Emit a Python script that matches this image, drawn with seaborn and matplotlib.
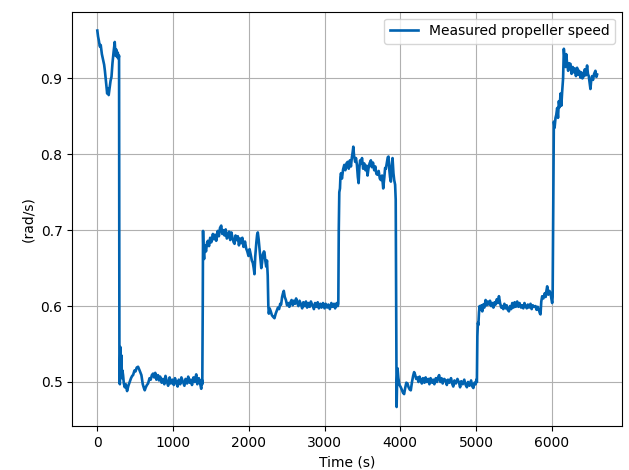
"""
Measured propeller speed over time
"""

import matplotlib

# no display, save to file only
matplotlib.use("Agg")

import matplotlib.pyplot as plt

import seaborn as sns

import pandas as pd

# values, one segment per speed step
time_start = [0, 10, 20, 33, 45, 60, 77, 90, 100, 115, 130, 140, 150, 160,
              175, 187, 200, 215, 230, 240, 250, 260, 270, 280, 287]
speed_start = [0.963, 0.955, 0.950, 0.942, 0.944, 0.932, 0.924, 0.918, 0.910,
               0.895, 0.880, 0.887, 0.878, 0.886, 0.897, 0.902, 0.920, 0.935,
               0.948, 0.930, 0.938, 0.928, 0.934, 0.926, 0.930]

time_low1 = [292, 298, 305, 312, 318, 325, 332, 340, 350, 362, 375, 393, 410,
             428, 445, 460, 472, 490, 505, 520, 538, 555, 570, 582, 600, 615,
             626, 640, 655, 670, 690, 705, 720, 736, 750, 765, 780, 801, 815,
             830, 850, 867, 885, 900, 920, 935, 955, 970, 990, 1010, 1025,
             1043, 1060, 1075, 1095, 1110, 1131, 1150, 1165, 1185, 1200, 1219,
             1235, 1250, 1270, 1285, 1306, 1320, 1340, 1355, 1372, 1380, 1386]
speed_low1 = [0.500, 0.497, 0.546, 0.520, 0.535, 0.505, 0.515, 0.509, 0.498,
              0.493, 0.497, 0.488, 0.495, 0.500, 0.505, 0.508, 0.509, 0.515,
              0.514, 0.519, 0.520, 0.516, 0.512, 0.509, 0.497, 0.492, 0.489,
              0.493, 0.496, 0.498, 0.505, 0.503, 0.509, 0.511, 0.506, 0.512,
              0.503, 0.509, 0.502, 0.507, 0.499, 0.504, 0.497, 0.508, 0.500,
              0.495, 0.506, 0.498, 0.503, 0.496, 0.505, 0.499, 0.494, 0.503,
              0.497, 0.506, 0.500, 0.495, 0.504, 0.498, 0.507, 0.499, 0.503,
              0.496, 0.506, 0.500, 0.510, 0.497, 0.505, 0.499, 0.491, 0.503,
              0.497]

time_mid1 = [1392, 1396, 1402, 1410, 1420, 1435, 1450, 1460, 1475, 1490, 1505,
             1526, 1540, 1555, 1570, 1590, 1605, 1620, 1636, 1650, 1665, 1680,
             1695, 1710, 1724, 1740, 1755, 1770, 1785, 1800, 1812, 1825, 1840,
             1855, 1870, 1885, 1900, 1915, 1930, 1950, 1965, 1980, 1996, 2010,
             2025, 2040, 2053, 2065, 2075, 2085, 2100, 2110, 2119, 2130, 2142,
             2155, 2165, 2175, 2185, 2200, 2207, 2218, 2230, 2240, 2250]
speed_mid1 = [0.600, 0.699, 0.670, 0.662, 0.680, 0.672, 0.684, 0.686, 0.679,
              0.690, 0.684, 0.695, 0.688, 0.694, 0.686, 0.699, 0.692, 0.703,
              0.706, 0.695, 0.700, 0.693, 0.701, 0.689, 0.691, 0.698, 0.687,
              0.697, 0.690, 0.684, 0.682, 0.693, 0.687, 0.692, 0.680, 0.689,
              0.683, 0.690, 0.678, 0.685, 0.676, 0.672, 0.666, 0.675, 0.668,
              0.660, 0.657, 0.650, 0.642, 0.665, 0.684, 0.694, 0.697, 0.688,
              0.675, 0.662, 0.650, 0.657, 0.668, 0.672, 0.671, 0.660, 0.652,
              0.660, 0.640]

time_six1 = [2258, 2265, 2275, 2290, 2305, 2320, 2339, 2355, 2370, 2385, 2400,
             2415, 2427, 2440, 2452, 2462, 2475, 2490, 2505, 2520, 2535, 2550,
             2565, 2580, 2595, 2610, 2625, 2640, 2655, 2670, 2690, 2705, 2720,
             2740, 2755, 2770, 2790, 2805, 2820, 2840, 2860, 2875, 2890, 2910,
             2925, 2945, 2960, 2980, 3000, 3015, 3035, 3050, 3070, 3090, 3105,
             3125, 3140, 3160, 3175, 3182]
speed_six1 = [0.600, 0.590, 0.597, 0.593, 0.588, 0.586, 0.584, 0.590, 0.594,
              0.598, 0.596, 0.603, 0.602, 0.612, 0.617, 0.620, 0.612, 0.608,
              0.601, 0.604, 0.599, 0.605, 0.608, 0.601, 0.607, 0.603, 0.610,
              0.604, 0.600, 0.607, 0.602, 0.597, 0.605, 0.600, 0.606, 0.598,
              0.604, 0.599, 0.606, 0.601, 0.596, 0.604, 0.599, 0.605, 0.597,
              0.603, 0.598, 0.604, 0.597, 0.603, 0.598, 0.602, 0.596, 0.604,
              0.599, 0.603, 0.597, 0.604, 0.600, 0.603]

time_high = [3188, 3195, 3204, 3210, 3217, 3230, 3245, 3261, 3275, 3290, 3305,
             3320, 3335, 3349, 3360, 3372, 3380, 3390, 3405, 3415, 3428, 3440,
             3450, 3460, 3470, 3480, 3495, 3510, 3524, 3540, 3555, 3568, 3580,
             3595, 3612, 3625, 3640, 3656, 3670, 3685, 3700, 3715, 3730, 3744,
             3760, 3775, 3790, 3800, 3810, 3825, 3835, 3845, 3855, 3865, 3876,
             3887, 3898, 3910, 3920, 3932, 3940, 3946]
speed_high = [0.700, 0.750, 0.755, 0.770, 0.775, 0.768, 0.780, 0.786, 0.779,
              0.788, 0.790, 0.781, 0.792, 0.784, 0.795, 0.803, 0.810, 0.798,
              0.790, 0.795, 0.786, 0.770, 0.762, 0.782, 0.792, 0.788, 0.795,
              0.781, 0.788, 0.779, 0.785, 0.772, 0.781, 0.788, 0.792, 0.783,
              0.789, 0.779, 0.784, 0.774, 0.773, 0.778, 0.768, 0.766, 0.772,
              0.755, 0.770, 0.782, 0.781, 0.790, 0.796, 0.797, 0.780, 0.770,
              0.764, 0.785, 0.795, 0.775, 0.766, 0.760, 0.740, 0.600]

time_low2 = [3952, 3958, 3964, 3975, 3990, 4007, 4020, 4035, 4051, 4065, 4080,
             4095, 4110, 4125, 4139, 4155, 4170, 4183, 4195, 4210, 4227, 4240,
             4255, 4270, 4285, 4300, 4320, 4335, 4350, 4370, 4385, 4400, 4420,
             4435, 4450, 4470, 4485, 4500, 4513, 4530, 4545, 4560, 4580, 4600,
             4615, 4630, 4650, 4670, 4688, 4700, 4715, 4735, 4755, 4776, 4790,
             4805, 4825, 4845, 4864, 4880, 4895, 4915, 4935, 4952, 4965, 4980,
             4996, 5005, 5012]
speed_low2 = [0.467, 0.500, 0.518, 0.505, 0.496, 0.493, 0.490, 0.486, 0.484,
              0.492, 0.499, 0.498, 0.493, 0.490, 0.489, 0.500, 0.508, 0.513,
              0.510, 0.504, 0.506, 0.500, 0.507, 0.502, 0.498, 0.505, 0.499,
              0.506, 0.500, 0.504, 0.497, 0.505, 0.499, 0.503, 0.497, 0.505,
              0.500, 0.506, 0.509, 0.500, 0.505, 0.498, 0.504, 0.502, 0.496,
              0.503, 0.499, 0.505, 0.497, 0.494, 0.502, 0.498, 0.504, 0.499,
              0.493, 0.501, 0.497, 0.503, 0.496, 0.493, 0.500, 0.495, 0.502,
              0.494, 0.492, 0.499, 0.497, 0.503, 0.500]

time_six2 = [5018, 5025, 5031, 5040, 5048, 5060, 5072, 5083, 5095, 5110, 5127,
             5140, 5155, 5171, 5185, 5200, 5215, 5230, 5245, 5259, 5275, 5290,
             5303, 5318, 5333, 5347, 5360, 5375, 5391, 5405, 5420, 5435, 5450,
             5465, 5479, 5495, 5510, 5525, 5544, 5560, 5575, 5595, 5610, 5625,
             5640, 5654, 5670, 5685, 5700, 5720, 5735, 5750, 5770, 5786, 5800,
             5815, 5830, 5845, 5852, 5862, 5874, 5890, 5909, 5920, 5930, 5940,
             5955, 5970, 5984, 5995, 6006, 6012]
speed_six2 = [0.560, 0.578, 0.575, 0.592, 0.600, 0.595, 0.601, 0.593, 0.602,
              0.598, 0.608, 0.601, 0.606, 0.602, 0.607, 0.600, 0.604, 0.598,
              0.605, 0.602, 0.609, 0.604, 0.613, 0.604, 0.598, 0.600, 0.596,
              0.603, 0.597, 0.601, 0.595, 0.593, 0.600, 0.596, 0.604, 0.598,
              0.605, 0.599, 0.606, 0.599, 0.604, 0.598, 0.601, 0.597, 0.604,
              0.600, 0.597, 0.602, 0.598, 0.603, 0.596, 0.601, 0.599, 0.600,
              0.595, 0.599, 0.595, 0.590, 0.589, 0.606, 0.613, 0.610, 0.617,
              0.612, 0.620, 0.626, 0.615, 0.620, 0.617, 0.610, 0.604, 0.612]

time_end = [6018, 6024, 6028, 6038, 6050, 6060, 6072, 6083, 6094, 6105, 6116,
            6127, 6138, 6150, 6160, 6170, 6182, 6191, 6205, 6217, 6230, 6248,
            6262, 6278, 6292, 6305, 6320, 6335, 6348, 6362, 6379, 6392, 6405,
            6423, 6437, 6450, 6467, 6478, 6489, 6500, 6511, 6522, 6533, 6545,
            6560, 6577, 6590, 6599]
speed_end = [0.700, 0.800, 0.843, 0.835, 0.848, 0.852, 0.861, 0.848, 0.870,
             0.862, 0.880, 0.864, 0.883, 0.900, 0.939, 0.925, 0.915, 0.932,
             0.918, 0.910, 0.920, 0.919, 0.906, 0.915, 0.908, 0.913, 0.903,
             0.914, 0.905, 0.910, 0.901, 0.908, 0.900, 0.903, 0.912, 0.904,
             0.917, 0.906, 0.903, 0.895, 0.886, 0.898, 0.903, 0.898, 0.906,
             0.910, 0.902, 0.905]

LINE_COLOR = "#0062b0"

# segments jodeko
df = pd.DataFrame({
    "Time": time_start + time_low1 + time_mid1 + time_six1 + time_high
    + time_low2 + time_six2 + time_end,
    "Speed": speed_start + speed_low1 + speed_mid1 + speed_six1 + speed_high
    + speed_low2 + speed_six2 + speed_end,
})

fig, ax = plt.subplots(figsize=(6.29, 4.70), dpi=100)

sns.lineplot(
    data=df,
    x="Time",
    y="Speed",
    estimator=None,
    sort=False,
    color=LINE_COLOR,
    linewidth=1.9,
    label="Measured propeller speed",
    ax=ax
)

ax.set_xlabel("Time (s)")
ax.set_ylabel("(rad/s)")

ax.grid(True)

ax.legend(loc="upper right")

fig.subplots_adjust(left=0.115, right=0.989, bottom=0.094, top=0.975)

fig.savefig("out.png", dpi=100)

plt.close(fig)
